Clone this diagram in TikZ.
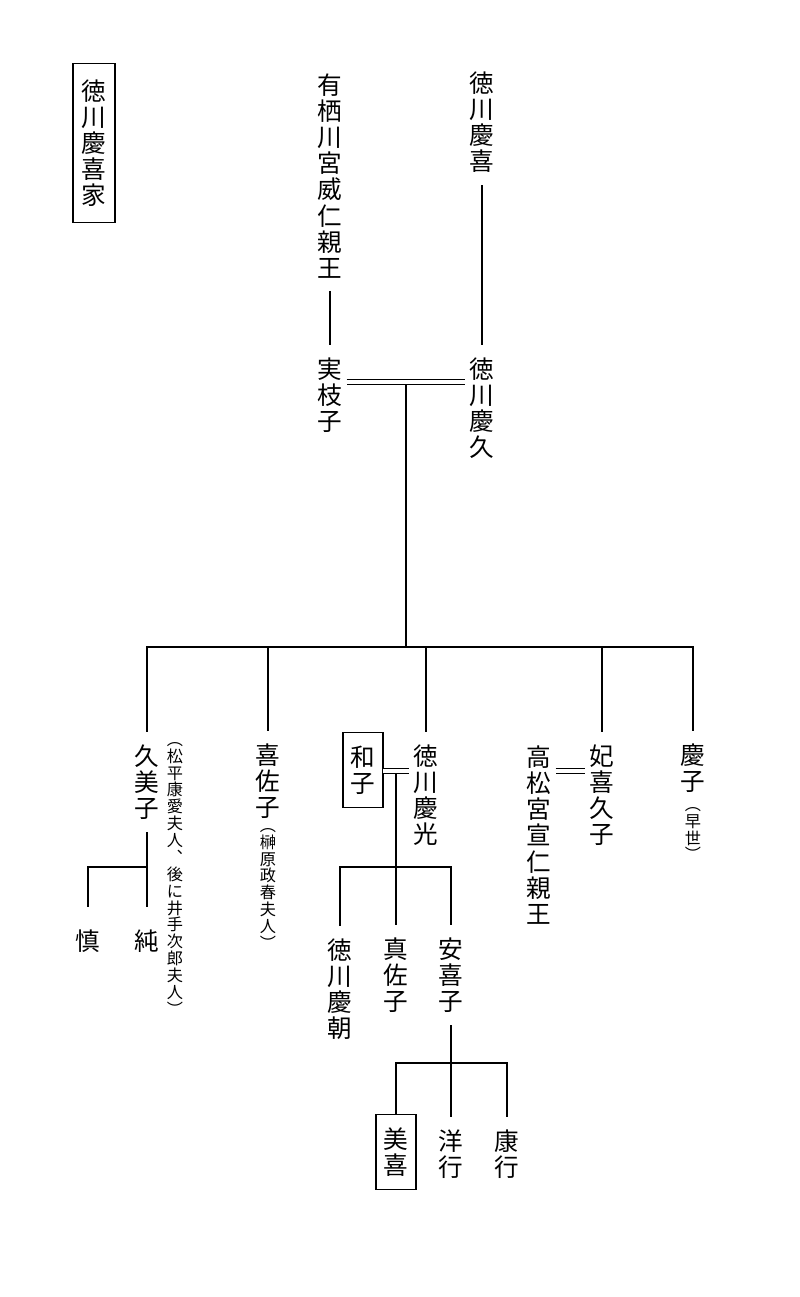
\documentclass[tikz,border=0pt]{standalone}
\usepackage{fontspec}
\newfontfamily\jp{Noto Sans CJK JP}
\usetikzlibrary{calc}
\lineskiplimit=-10pt

\tikzset{
	jname/.style={font=\jp\fontsize{17.5pt}{18.6pt}\selectfont, align=center, inner sep=0pt, outer xsep=3pt, outer ysep=9pt},
	jnote/.style={font=\jp\fontsize{11.5pt}{12pt}\selectfont, align=center, inner sep=0pt, anchor=north},
	jbox/.style={jname, draw, line width=1.2pt, outer sep=0pt, minimum width=1cm, minimum height=1.875cm},
	kin/.style={line width=1.5pt},
	wed/.style={double, line width=1.2pt, double distance=2.4pt}
}

\begin{document}
\begin{tikzpicture}[x=0.025cm, y=-0.025cm]
			%%%%% START %%%%%
			\useasboundingbox (0, 0) rectangle (800, 1297);
			
			\node[jbox, minimum width=1.05cm, minimum height=3.975cm] (house) at (94, 143) {徳\\川\\慶\\喜\\家};
			
			\node[jname] (arisugawa) at (330, 176) {有\\栖\\川\\宮\\威\\仁\\親\\王};
			\node[jname] (yoshinobu) at (482, 122) {徳\\川\\慶\\喜};
			\node[jname] (saeko) at (330, 395) {実\\枝\\子};
			\node[jname] (yoshihisa) at (482, 408) {徳\\川\\慶\\久};
			
			\node[jname] (kumiko) at (147, 782) {久\\美\\子};
			\node[jnote] (kumikonote) at (175, 742) {︵\\松\\平\\康\\愛\\夫\\人\\︑\\後\\に\\井\\手\\次\\郎\\夫\\人\\︶};
			\node[jname] (kisako) at (268, 781) {喜\\佐\\子};
			\node[jnote] (kisakonote) at (268, 828) {︵\\榊\\原\\政\\春\\夫\\人\\︶};
			\node[jbox] (kazuko) at (363, 770) {和\\子};
			\node[jname] (yoshimitsu) at (426, 795) {徳\\川\\慶\\光};
			\node[jname] (takamatsu) at (539, 835) {高\\松\\宮\\宣\\仁\\親\\王};
			\node[jname] (kihisako) at (602, 795) {妃\\喜\\久\\子};
			\node[jname] (keiko) at (693, 768) {慶\\子};
			\node[jnote] (keikonote) at (693, 807) {︵\\早\\世\\︶};
			
			\node[jname] (shin) at (88, 941) {慎};
			\node[jname] (jun) at (147, 941) {純};
			
			\node[jname] (yoshitomo) at (340, 989) {徳\\川\\慶\\朝};
			\node[jname] (masako) at (396, 975) {真\\佐\\子};
			\node[jname] (akiko) at (451, 975) {安\\喜\\子};
			
			\node[jbox] (miki) at (396, 1152) {美\\喜};
			\node[jname] (hiroyuki) at (451, 1154) {洋\\行};
			\node[jname] (yasuyuki) at (507, 1154) {康\\行};
			
			% lines of descent
			\draw[kin] (arisugawa) -- (saeko);
			\draw[kin] (yoshinobu) -- (yoshihisa);
			
			\coordinate (m1) at (406, 382);
			\coordinate (b1) at (406, 647);
			\draw[kin] (m1) -- (b1);
			\draw[wed] (saeko.east |- m1) -- (yoshihisa.west |- m1);
			\draw[kin] (kumiko.north) -- (kumiko.north |- b1) -- (keiko.north |- b1) -- (keiko.north);
			\foreach \c in {kisako, yoshimitsu, kihisako}
				\draw[kin] (\c.north |- b1) -- (\c.north);
			
			\coordinate (b4) at (147, 867);
			\draw[kin] (kumiko.south) -- ([yshift=7pt]jun.north);
			\draw[kin] (b4) -- (shin.north |- b4) -- ([yshift=7pt]shin.north);
			
			\coordinate (m2) at (396, 771);
			\coordinate (b2) at (396, 867);
			\draw[kin] (m2) -- (masako);
			\draw[kin] (yoshitomo.north) -- (yoshitomo.north |- b2) -- (akiko.north |- b2) -- (akiko.north);
			\draw[wed] (kazuko.east |- m2) -- (yoshimitsu.west |- m2);
			
			\coordinate (m3) at (570, 771);
			\draw[wed] (takamatsu.east |- m3) -- (kihisako.west |- m3);
			
			\coordinate (b3) at (451, 1063);
			\draw[kin] (akiko) -- (hiroyuki);
			\draw[kin] (miki.north) -- (miki.north |- b3) -- (yasuyuki.north |- b3) -- (yasuyuki.north);
			
			%%%%% END %%%%%
\end{tikzpicture}
\end{document}
